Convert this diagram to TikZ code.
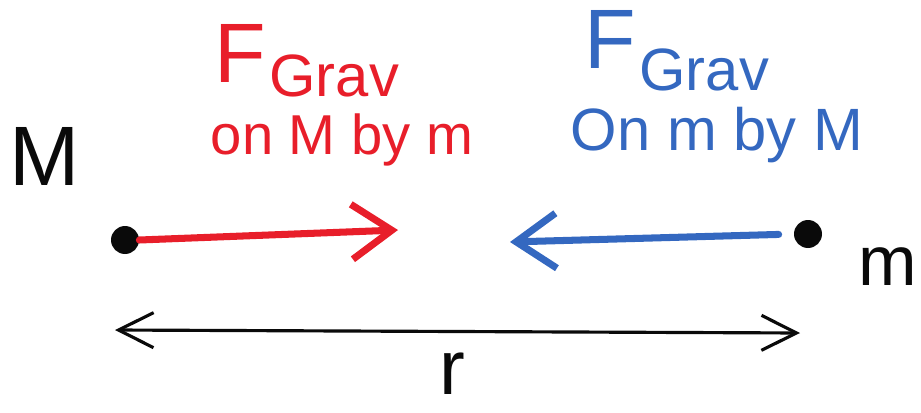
\documentclass[tikz,border=0pt]{standalone}
\usepackage{fontspec}
\setmainfont{Liberation Sans}
\usetikzlibrary{positioning,arrows.meta}
\definecolor{cred}{RGB}{232,30,42}
\definecolor{cblue}{RGB}{52,104,192}
\definecolor{cink}{RGB}{10,10,10}

\begin{document}
\begin{tikzpicture}[
  x=0.02cm,y=-0.02cm,
  mass/.style={circle,fill=cink,inner sep=0pt,minimum size=0.56cm},
  lbl/.style={inner sep=0pt,anchor=base},
  force/.style={line width=4pt,line cap=round,line join=round,
    -{Straight Barb[length=8mm,width=11mm]}},
  sep/.style={cink,line width=1.8pt,line cap=round,
    {Straight Barb[length=7mm,width=7mm]}-{Straight Barb[length=7mm,width=7mm]}},
]
\useasboundingbox (0,0) rectangle (921,413);

% ===== MASSES =====
\node[mass] (M) at (125,240) {};
\node[mass] (m) at (808,234) {};
\node[lbl,cink,font=\fontsize{48}{48}\selectfont] (Mlab) at (45,185) {M};
\node[lbl,cink,font=\fontsize{40}{40}\selectfont] (mlab) at (888,285) {m};

% ===== FORCE ON M (red) =====
\coordinate (redtip) at (398,230);
\draw[force,cred] (M.east) -- (redtip);
\node[lbl,cred,font=\fontsize{48}{48}\selectfont] (Fred) at (240,82) {F};
\node[lbl,anchor=base west,cred,font=\fontsize{34}{34}\selectfont]
  (Gred) at ([shift={(3,14)}]Fred.base east) {Grav};
\node[lbl,cred,font=\fontsize{32}{32}\selectfont] (onred) at (342,154) {on M by m};

% ===== FORCE ON m (blue) =====
\coordinate (bluetip) at (510,242);
\draw[force,cblue,shorten <=0.3cm] (m.west) -- (bluetip);
\node[lbl,cblue,font=\fontsize{48}{48}\selectfont] (Fblue) at (610,68) {F};
\node[lbl,anchor=base west,cblue,font=\fontsize{34}{34}\selectfont]
  (Gblue) at ([shift={(3,22)}]Fblue.base east) {Grav};
\node[lbl,cblue,font=\fontsize{34}{34}\selectfont] (onblue) at (717,150) {On m by M};

% ===== separation r =====
\coordinate (rleft) at (115,330);
\coordinate (rright) at (800,333);
\draw[sep] (rleft) -- (rright);
\node[lbl,cink,font=\fontsize{44}{44}\selectfont] (rlab) at (452,394) {r};

\end{tikzpicture}
\end{document}
